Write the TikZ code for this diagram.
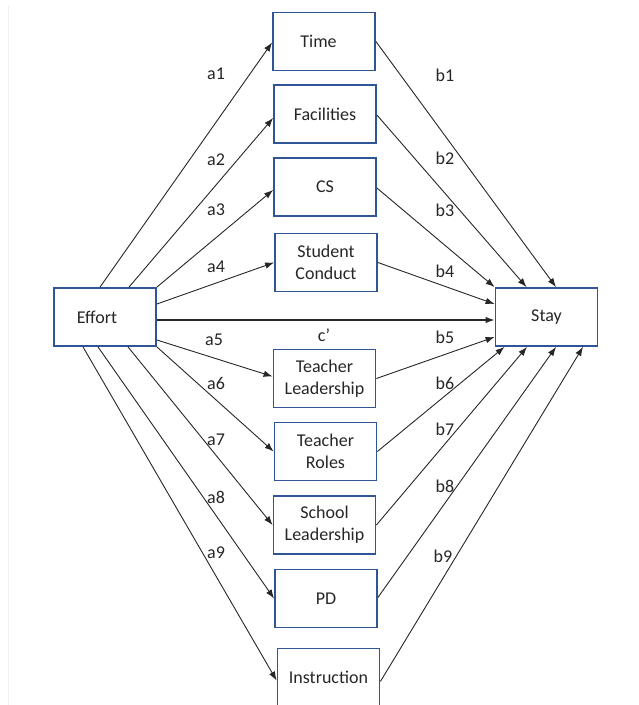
\documentclass[tikz,border=0pt]{standalone}
\usepackage{fontspec}
\setmainfont{Carlito}
\usetikzlibrary{arrows.meta}
\definecolor{boxblue}{RGB}{47,85,151}
\tikzset{
    var/.style={draw=boxblue, line width=1.8pt, minimum width=102pt, minimum height=58pt, align=center, inner sep=0pt, font=\fontsize{18}{22}\selectfont, text=black!85},
    lab/.style={font=\fontsize{18}{22}\selectfont, text=black!85},
    arr/.style={line width=0.9pt, black!85, -{Latex[length=9pt, width=6.5pt]}}
}
\begin{document}
\begin{tikzpicture}[x=1pt, y=-1pt]
        \useasboundingbox (0, 0) rectangle (639, 705);
        \draw[gray!12, line width=1pt] (8, 6) -- (8, 705);
        \node[var] (effort) at (105, 317) {Effort\hspace{16pt}};
        \node[var] (stay) at (546.5, 317) {Stay};
        \node[var] (time) at (324, 41.5) {Time\hspace{11pt}};
        \node[var] (facil) at (325, 114) {Facilities};
        \node[var] (cs) at (325, 187) {CS};
        \node[var] (conduct) at (326, 262.5) {Student\\Conduct};
        \node[var] (tlead) at (324.5, 378.5) {Teacher\\Leadership};
        \node[var] (troles) at (325.5, 451.5) {Teacher\\Roles};
        \node[var] (slead) at (324.5, 525) {School\\Leadership};
        \node[var] (pd) at (326, 598.5) {PD};
        \node[var] (instr) at (328.5, 677.5) {Instruction};
        % paths a
        \draw[arr] ([xshift=-5pt]effort.north) -- ([yshift=-1pt]time.west);
        \draw[arr] ([xshift=24pt]effort.north) -- ([yshift=-4pt]facil.west);
        \draw[arr] (effort.north east) -- ([yshift=-3pt]cs.west);
        \draw[arr] ([yshift=13pt]effort.east) -- (conduct.west);
        \draw[arr] ([yshift=-23pt]effort.east) -- ([yshift=2pt]tlead.west);
        \draw[arr] (effort.south east) -- (troles.west);
        \draw[arr] ([xshift=23pt]effort.south) -- (slead.west);
        \draw[arr] ([xshift=-7pt]effort.south) -- (pd.west);
        \draw[arr] ([xshift=-22pt]effort.south) -- ([yshift=-3pt]instr.west);
        % direct path
        \draw[arr, line width=1.3pt] ([yshift=-3pt]effort.east) -- ([yshift=-3pt]stay.west);
        % paths b
        \draw[arr] (time.east) -- ([xshift=9.5pt]stay.north);
        \draw[arr] ([yshift=-1pt]facil.east) -- ([xshift=-20pt]stay.north);
        \draw[arr] ([yshift=-1pt]cs.east) -- (stay.north west);
        \draw[arr] (conduct.east) -- ([yshift=13pt]stay.west);
        \draw[arr] (tlead.east) -- ([yshift=-20pt]stay.west);
        \draw[arr] (troles.east) -- ([xshift=-42pt]stay.south);
        \draw[arr] (slead.east) -- ([xshift=-19.5pt]stay.south);
        \draw[arr] ([yshift=1pt]pd.east) -- ([xshift=9.5pt]stay.south);
        \draw[arr] ([yshift=-4pt]instr.east) -- ([xshift=36.5pt]stay.south);
        % labels
        \node[lab] (la1) at (216, 74) {a1};
        \node[lab] (la2) at (216, 160) {a2};
        \node[lab] (la3) at (216, 210) {a3};
        \node[lab] (la4) at (216, 267) {a4};
        \node[lab] (la5) at (214, 340) {a5};
        \node[lab] (lc) at (324, 335) {c’};
        \node[lab] (la6) at (216, 383) {a6};
        \node[lab] (la7) at (216, 440) {a7};
        \node[lab] (la8) at (216, 497) {a8};
        \node[lab] (la9) at (216, 553) {a9};
        \node[lab] (lb1) at (445, 75) {b1};
        \node[lab] (lb2) at (445, 158) {b2};
        \node[lab] (lb3) at (445, 210) {b3};
        \node[lab] (lb4) at (445, 271) {b4};
        \node[lab] (lb5) at (445, 337) {b5};
        \node[lab] (lb6) at (445, 383) {b6};
        \node[lab] (lb7) at (445, 429) {b7};
        \node[lab] (lb8) at (445, 486) {b8};
        \node[lab] (lb9) at (443, 556) {b9};
    \end{tikzpicture}
\end{document}
